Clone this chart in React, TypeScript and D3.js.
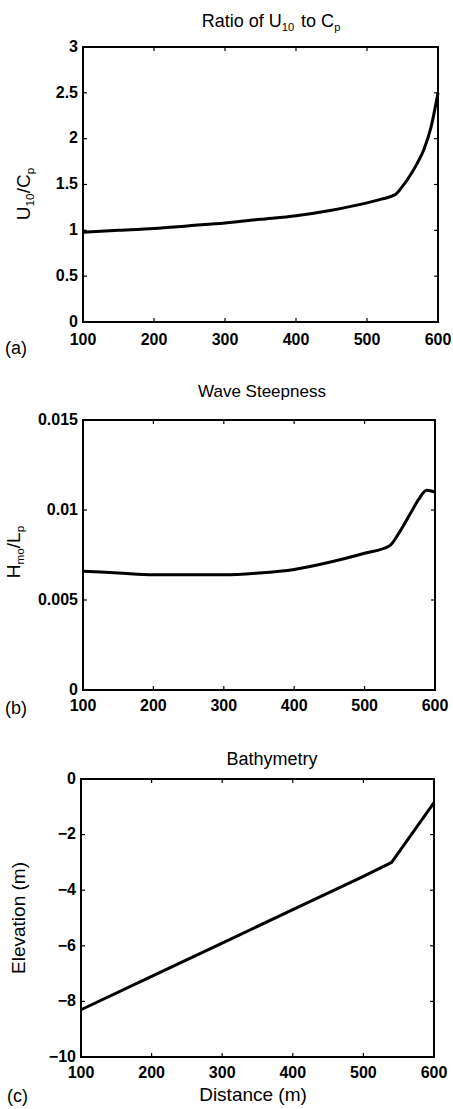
import React from "react";
import * as d3 from "d3";

// x positions shared by all three panels (m)
const xTicks = [100, 200, 300, 400, 500, 600];

// (a) ratio of U10 to Cp
const ratioX = [100, 150, 200, 250, 300, 350, 400, 450, 500, 520, 540, 550, 560, 570, 580, 590, 600];
const ratioY = [0.98, 1.0, 1.02, 1.05, 1.08, 1.12, 1.16, 1.22, 1.3, 1.34, 1.39, 1.48, 1.59, 1.72, 1.88, 2.12, 2.5];
const ratioTicks = [0, 0.5, 1, 1.5, 2, 2.5, 3];

// (b) wave steepness Hmo/Lp
const steepX = [100, 150, 200, 250, 300, 350, 400, 450, 500, 535, 550, 565, 577, 588, 600];
const steepY = [0.0066, 0.0065, 0.0064, 0.0064, 0.0064, 0.0065, 0.0067, 0.0071, 0.0076, 0.008, 0.0088, 0.0098, 0.0106, 0.0111, 0.011];
const steepTicks = [0, 0.005, 0.01, 0.015];

// (c) bathymetry
const bathyX = [100, 200, 300, 400, 500, 540, 600];
const bathyY = [-8.3, -7.1, -5.9, -4.7, -3.5, -3.0, -0.85];
const bathyTicks = [-10, -8, -6, -4, -2, 0];

const fmt = d3.format("~g");
const FONT = "Liberation Sans, Arial, Helvetica, sans-serif";

type PanelProps = {
  left: number; right: number; top: number; bottom: number;
  yDomain: [number, number];
  yTicks: number[];
  xs: number[]; ys: number[];
  xLabelOffset: number;
  smooth?: boolean;
};

const Panel = ({ left, right, top, bottom, yDomain, yTicks, xs, ys, xLabelOffset, smooth }: PanelProps) => {
  const x = d3.scaleLinear().domain([100, 600]).range([left, right]);
  const y = d3.scaleLinear().domain(yDomain).range([bottom, top]);
  const pts: [number, number][] = xs.map((d, i) => [d, ys[i]]);
  const path = d3.line<[number, number]>()
    .x((d) => x(d[0]))
    .y((d) => y(d[1]))
    .curve(smooth ? d3.curveMonotoneX : d3.curveLinear)(pts);
  const tl = 4;

  return (
    <g>
      <path d={path || ""} fill="none" stroke="#000" strokeWidth={3} strokeLinejoin="round" />
      {xTicks.map((t) => (
        <g key={"x" + t}>
          <line x1={x(t)} x2={x(t)} y1={bottom} y2={bottom - tl} stroke="#000" strokeWidth={1.2} />
          <line x1={x(t)} x2={x(t)} y1={top} y2={top + tl} stroke="#000" strokeWidth={1.2} />
          <text x={x(t)} y={bottom + xLabelOffset} textAnchor="middle" fontSize={16} fontWeight="bold">
            {fmt(t)}
          </text>
        </g>
      ))}
      {yTicks.map((t) => (
        <g key={"y" + t}>
          <line x1={left} x2={left + tl} y1={y(t)} y2={y(t)} stroke="#000" strokeWidth={1.2} />
          <line x1={right} x2={right - tl} y1={y(t)} y2={y(t)} stroke="#000" strokeWidth={1.2} />
          <text x={left - 5} y={y(t)} dy="0.3em" textAnchor="end" fontSize={16} fontWeight="bold">
            {fmt(t)}
          </text>
        </g>
      ))}
      <rect x={left} y={top} width={right - left} height={bottom - top} fill="none" stroke="#000" strokeWidth={2} />
    </g>
  );
};

const Sub = ({ children }: { children: React.ReactNode }) => (
  <tspan fontSize="0.62em" baselineShift="-35%">{children}</tspan>
);

export default function App() {
  return (
    <svg width={453} height={1109} style={{ position: "absolute", left: 0, top: 0, display: "block" }} fontFamily={FONT}>
      <rect width={453} height={1109} fill="#fff" />

      {/* (a) */}
      <text x={271} y={27} textAnchor="middle" fontSize={18}>
        Ratio of U<tspan dx={3}></tspan><Sub>10</Sub><tspan dx={2}> to C</tspan><tspan dx={2}></tspan><Sub>p</Sub>
      </text>
      <Panel left={83} right={438} top={47} bottom={322} yDomain={[0, 3]} yTicks={ratioTicks}
        xs={ratioX} ys={ratioY} xLabelOffset={23} smooth />
      <text transform="translate(30,194) rotate(-90)" textAnchor="middle" fontSize={19}>
        U<tspan dx={2}></tspan><Sub>10</Sub><tspan>/C</tspan><tspan dx={1}></tspan><Sub>p</Sub>
      </text>
      <text x={5} y={354} fontSize={18}>(a)</text>

      {/* (b) */}
      <text x={262} y={397} textAnchor="middle" fontSize={17}>Wave Steepness</text>
      <Panel left={83} right={435} top={420} bottom={690} yDomain={[0, 0.015]} yTicks={steepTicks}
        xs={steepX} ys={steepY} xLabelOffset={21} smooth />
      <text transform="translate(20,552) rotate(-90)" textAnchor="middle" fontSize={19}>
        H<tspan dx={1}></tspan><Sub>mo</Sub><tspan>/L</tspan><tspan dx={1}></tspan><Sub>p</Sub>
      </text>
      <text x={5} y={714} fontSize={18}>(b)</text>

      {/* (c) */}
      <text x={272} y={765} textAnchor="middle" fontSize={18}>Bathymetry</text>
      <Panel left={81} right={434} top={779} bottom={1057} yDomain={[-10, 0]} yTicks={bathyTicks}
        xs={bathyX} ys={bathyY} xLabelOffset={21} />
      <text transform="translate(25,918) rotate(-90)" textAnchor="middle" fontSize={19}>Elevation (m)</text>
      <text x={253} y={1101} textAnchor="middle" fontSize={19}>Distance (m)</text>
      <text x={7} y={1102} fontSize={18}>(c)</text>
    </svg>
  );
}
